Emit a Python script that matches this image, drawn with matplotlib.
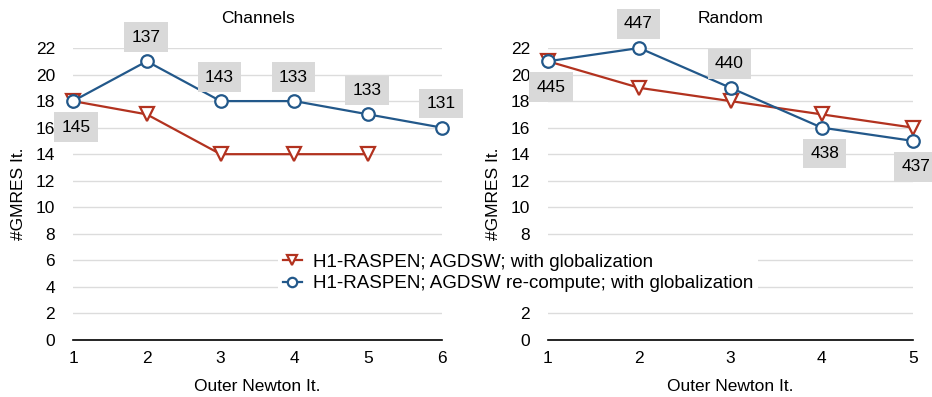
import numpy as np
import matplotlib.pyplot as plt

plt.rcParams['font.family'] = ['Liberation Sans', 'DejaVu Sans']
plt.rcParams['font.size'] = 12.5

# Channels
ch_x = [1, 2, 3, 4, 5, 6]
ch_red = [18, 17, 14, 14, 14]
ch_blue = [18, 21, 18, 18, 17, 16]
ch_labels = ['145', '137', '143', '133', '133', '131']
ch_below = [True, False, False, False, False, False]

# Random
rd_x = [1, 2, 3, 4, 5]
rd_red = [21, 19, 18, 17, 16]
rd_blue = [21, 22, 19, 16, 15]
rd_labels = ['445', '447', '440', '438', '437']
rd_below = [True, False, False, True, True]

yticks = np.arange(0, 23, 2)

red = '#b2321f'
blue = '#22588a'

fig = plt.figure(figsize=(9.32, 3.97), dpi=100)
ax1 = fig.add_axes([73/932, 1-340/397, 369/932, 292/397])
ax2 = fig.add_axes([548/932, 1-340/397, 365/932, 292/397])


def draw(ax, x, red_vals, blue_vals, labels, below, title):
    ax.plot(x[:len(red_vals)], red_vals, color=red, lw=1.6, marker='v',
            ms=10, mfc='white', mec=red, mew=1.6, clip_on=False, zorder=3,
            label='H1-RASPEN; AGDSW; with globalization')
    ax.plot(x, blue_vals, color=blue, lw=1.6, marker='o',
            ms=9, mfc='white', mec=blue, mew=1.6, clip_on=False, zorder=4,
            label='H1-RASPEN; AGDSW re-compute; with globalization')
    for xi, yi, lab, b in zip(x, blue_vals, labels, below):
        off = -26 if b else 24
        ax.annotate(lab, (xi, yi), xytext=(3 if b else -1, off),
                    textcoords='offset pixels',
                    ha='center', va='center', fontsize=12.5, zorder=5,
                    bbox=dict(boxstyle='square,pad=0.42', fc='#d9d9d9', ec='none'),
                    annotation_clip=False)
    ax.set_xlim(x[0], x[-1])
    ax.set_ylim(0, 22)
    ax.set_xticks(x)
    ax.set_yticks(yticks)
    ax.yaxis.grid(True, color='#dcdcdc', lw=1)
    ax.set_axisbelow(True)
    for s in ['top', 'right', 'left']:
        ax.spines[s].set_visible(False)
    ax.spines['bottom'].set_color('black')
    ax.spines['bottom'].set_linewidth(1.2)
    ax.tick_params(length=0)
    ax.tick_params(axis='x', pad=8)
    ax.tick_params(axis='y', pad=13)
    ax.set_title(title, fontsize=12.5, pad=18)
    ax.set_xlabel('Outer Newton It.', labelpad=9)
    ax.set_ylabel('#GMRES It.', labelpad=7)


draw(ax1, ch_x, ch_red, ch_blue, ch_labels, ch_below, 'Channels')
draw(ax2, rd_x, rd_red, rd_blue, rd_labels, rd_below, 'Random')

h, l = ax1.get_legend_handles_labels()
fig.legend(h, l, loc='center', bbox_to_anchor=(518/932, 1-273/397),
           frameon=True, fancybox=False, edgecolor='none', facecolor='white',
           framealpha=1, fontsize=13.5, handlelength=1.0, labelspacing=0.25,
           borderpad=0.25, handletextpad=0.6, markerscale=0.75)

fig.savefig('out.png', dpi=100)
